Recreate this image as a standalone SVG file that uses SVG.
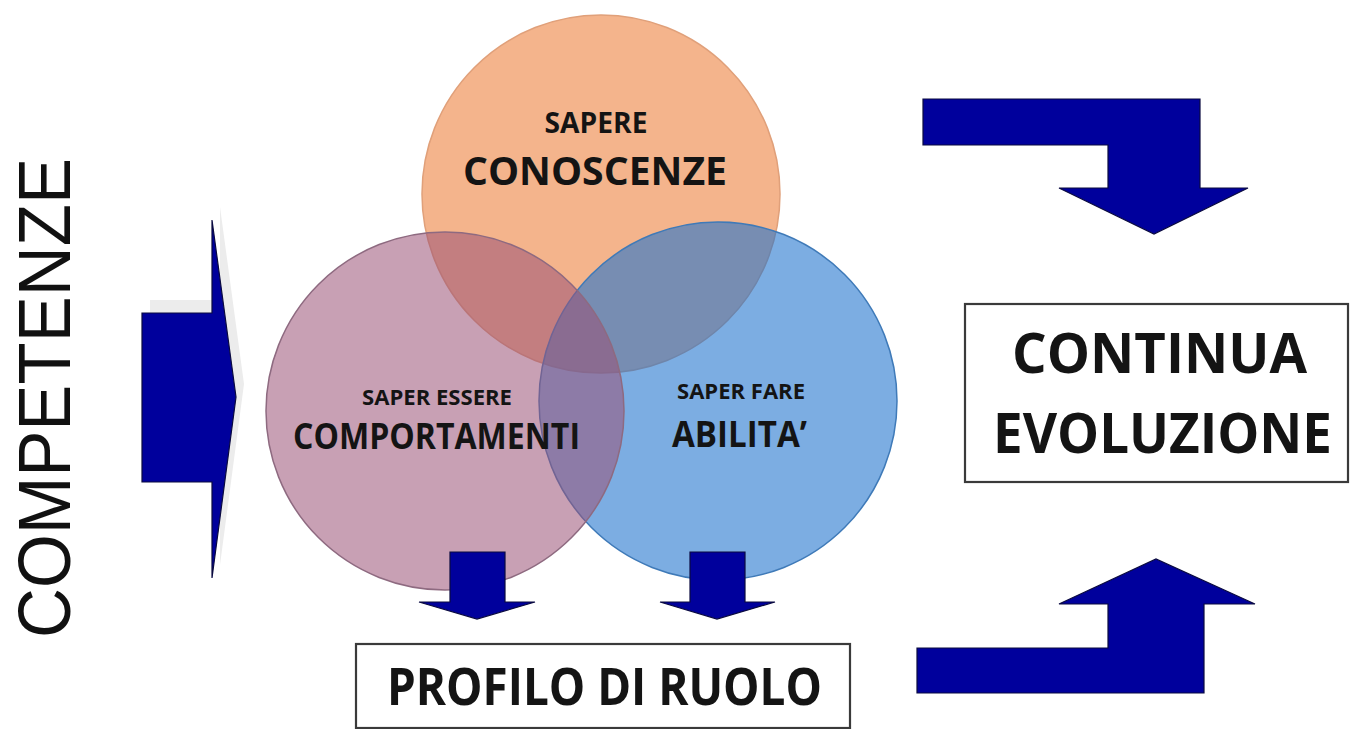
<svg xmlns="http://www.w3.org/2000/svg" width="1352" height="729" viewBox="0 0 1352 729">
<style>
.t{font-family:"Open Sans","Liberation Sans",sans-serif;font-weight:700;fill:#141414;text-anchor:middle}
.arr{fill:#00009C;stroke:#0A0A40;stroke-width:1.2;stroke-linejoin:miter}
.box{fill:#fff;stroke:#3a3a3a;stroke-width:2.2}
</style>
<rect width="1352" height="729" fill="#fff"/>
<g id="competenze-label">
<text transform="translate(70,638) rotate(-90)" font-family="'Liberation Sans',Arial,sans-serif" font-size="74" fill="#111" textLength="480" lengthAdjust="spacingAndGlyphs">COMPETENZE</text>
</g>
<g id="circles">
<g id="conoscenze">
<circle cx="601" cy="194" r="179" fill="#F4B48C" stroke="#E0A07A" stroke-width="1.5"/>
</g>
<g id="abilita">
<circle cx="718" cy="401" r="179" fill="#1E71CD" fill-opacity="0.58" stroke="#3F7AB8" stroke-width="1.5"/>
</g>
<g id="comportamenti">
<circle cx="445" cy="411" r="179" fill="#9B5277" fill-opacity="0.55" stroke="#8E6A80" stroke-width="1.5"/>
</g>
<text class="t" x="596" y="133" font-size="28" textLength="103" lengthAdjust="spacingAndGlyphs">SAPERE</text>
<text class="t" x="595" y="185" font-size="39" textLength="264" lengthAdjust="spacingAndGlyphs">CONOSCENZE</text>
<text class="t" x="437" y="405" font-size="21" textLength="150" lengthAdjust="spacingAndGlyphs">SAPER ESSERE</text>
<text class="t" x="436.5" y="449" font-size="36" textLength="287" lengthAdjust="spacingAndGlyphs">COMPORTAMENTI</text>
<text class="t" x="741" y="399" font-size="22" textLength="128" lengthAdjust="spacingAndGlyphs">SAPER FARE</text>
<text class="t" x="739.5" y="447" font-size="36" textLength="135" lengthAdjust="spacingAndGlyphs">ABILITA’</text>
</g>
<g id="profilo">
<rect class="box" x="356" y="644" width="494" height="84"/>
<text class="t" x="604.5" y="705" font-size="52" textLength="435" lengthAdjust="spacingAndGlyphs">PROFILO DI RUOLO</text>
</g>
<g id="evoluzione">
<rect class="box" x="965" y="304" width="383" height="178"/>
<text class="t" x="1159.5" y="373" font-size="56" textLength="295" lengthAdjust="spacingAndGlyphs">CONTINUA</text>
<text class="t" x="1162.5" y="453" font-size="55" textLength="339" lengthAdjust="spacingAndGlyphs">EVOLUZIONE</text>
</g>
<g id="connectors">
<polygon points="150,300 220,300 220,207 244,384 220,565 220,469 150,469" fill="#ececec"/>
<polygon class="arr" points="142,313 212,313 212,220 236,397 212,578 212,482 142,482"/>
<polygon class="arr" points="450,552 505,552 505,602 535,602 477,619 419,602 450,602"/>
<polygon class="arr" points="690,552 745,552 745,602 775,602 717,619 660,602 690,602"/>
<polygon class="arr" points="923,99 1200,99 1200,188 1248,188 1154,234 1059,188 1108,188 1108,145 923,145"/>
<polygon class="arr" points="917,693 1204,693 1204,604 1255,604 1156,559 1059,604 1108,604 1108,648 917,648"/>
</g>
</svg>
